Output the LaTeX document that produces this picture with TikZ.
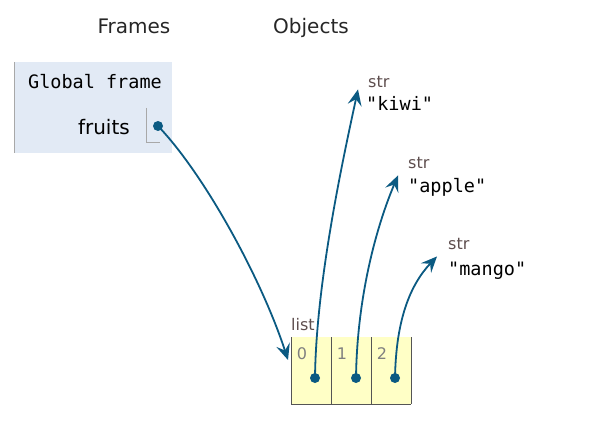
\documentclass[tikz,border=0pt]{standalone}
\usepackage{fontspec}
\setmainfont{DejaVu Sans}
\setmonofont{DejaVu Sans Mono}
\usetikzlibrary{arrows.meta, positioning}
\definecolor{ink}{HTML}{0B5A82}
\definecolor{framebg}{HTML}{E2EAF5}
\definecolor{listbg}{HTML}{FFFFC6}
\definecolor{edge}{HTML}{555555}
\definecolor{cellline}{HTML}{A8A8A8}
\definecolor{typegray}{HTML}{5E4E4E}
\definecolor{idxgray}{HTML}{808080}
\tikzset{
  heading/.style={anchor=base, inner sep=0pt, font=\fontsize{20}{24}\selectfont, text=black!85},
  label/.style={anchor=base east, inner sep=0pt, font=\fontsize{20}{24}\selectfont},
  code/.style={anchor=base west, inner sep=0pt, font=\ttfamily\fontsize{18.5}{22}\selectfont},
  typename/.style={anchor=base west, inner sep=0pt, font=\fontsize{16}{19}\selectfont, text=typegray},
  index/.style={anchor=base, inner sep=0pt, font=\fontsize{16}{19}\selectfont, text=idxgray},
  dot/.style={circle, fill=ink, inner sep=0pt, minimum size=10pt},
  pointer/.style={-{Stealth[length=16pt, width=14pt, inset=6pt]}, line width=1.8pt, draw=ink}
}

\begin{document}
\begin{tikzpicture}[x=1pt, y=-1pt]
\useasboundingbox (0,0) rectangle (591,430);

% column headings
\node[heading] (frameshead) at (134,34) {Frames};
\node[heading] (objectshead) at (311,34) {Objects};

% global frame
\fill[framebg] (14,62) rectangle (172,153);
\draw[cellline, line width=1pt] (14,62) -- (14,153);
\node[code, anchor=base east] (globalframe) at (162,89) {Global frame};
\node[label] (fruits) at (130,135) {fruits};
\draw[cellline, line width=1pt] (146,108) -- (146,143) -- (160,143);
\node[dot] (fruitsptr) at (158,126) {};

% list object
\node[typename] (listtype) at (291,330) {list};
\fill[listbg] (291,337) rectangle (411,404);
\draw[edge, line width=1pt] (291,337) -- (291,404) -- (411,404);
\foreach \i/\x in {0/291, 1/331, 2/371} {
  \draw[edge, line width=1pt] (\x+40,337) -- (\x+40,404);
  \node[index] (idx\i) at (\x+11,359) {\i};
}
\node[dot] (elem0) at (315,378) {};
\node[dot] (elem1) at (356,378) {};
\node[dot] (elem2) at (395,378) {};
\coordinate (listin) at (288,360);

% string objects
\node[typename] (kiwitype) at (368,88) {str};
\node[code] (kiwi) at (366,111) {"kiwi"};
\node[typename] (appletype) at (408,169) {str};
\node[code] (apple) at (408,193) {"apple"};
\node[typename] (mangotype) at (448,250) {str};
\node[code] (mango) at (448,275) {"mango"};

% references
\draw[pointer] (fruitsptr.center) .. controls (205,175) and (262,280) .. (listin);
\draw[pointer] (elem0.center) .. controls (316,280) and (345,150) .. ([shift={(-10,1)}]kiwitype.south west);
\draw[pointer] (elem1.center) .. controls (357,300) and (375,230) .. ([shift={(-10,6)}]appletype.south west);
\draw[pointer] (elem2.center) .. controls (396,320) and (410,285) .. ([shift={(-11,6)}]mangotype.south west);

\end{tikzpicture}
\end{document}
